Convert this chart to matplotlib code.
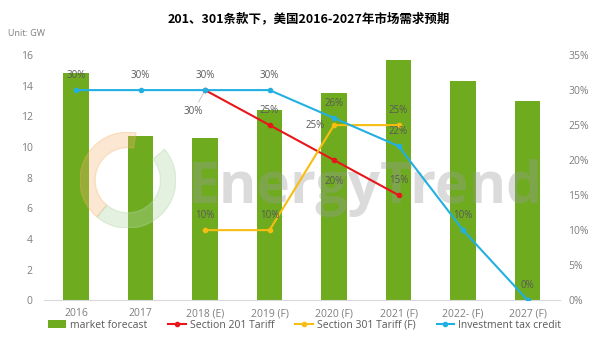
import matplotlib
matplotlib.use('Agg')
from matplotlib import pyplot as plt
from matplotlib.patches import Wedge
import numpy as np

plt.rcParams['font.family'] = ['Open Sans', 'Noto Sans CJK SC', 'DejaVu Sans']

# 数据
years = ['2016', '2017', '2018 (E)', '2019 (F)', '2020 (F)', '2021 (F)', '2022- (F)', '2027 (F)']
market = [14.8, 10.7, 10.6, 12.4, 13.5, 15.7, 14.3, 13.0]
tariff201 = [None, None, 30, 25, 20, 15, None, None]
tariff301 = [None, None, 10, 10, 25, 25, None, None]
itc = [30, 30, 30, 30, 26, 22, 10, 0]

green = '#6eab1f'
red = '#e8161b'
yellow = '#f7bd12'
blue = '#22b0e2'
grey = '#7f7f7f'

fig = plt.figure(figsize=(6, 3.38), dpi=100)
ax = fig.add_axes([0.073, 0.112, 0.86, 0.725])
ax2 = ax.twinx()

x = np.arange(len(years))
ax.bar(x, market, width=0.39, color=green, label='market forecast', zorder=2)
ax.set_ylim(0, 16)
ax.set_yticks(range(0, 17, 2))
ax.set_xlim(-0.5, len(years) - 0.5)
ax.set_xticks(x)
ax.set_xticklabels(years)

def series(vals):
    idx = [i for i, v in enumerate(vals) if v is not None]
    return np.array(idx), np.array([vals[i] for i in idx])

x201, y201 = series(tariff201)
x301, y301 = series(tariff301)
xitc, yitc = series(itc)
ax2.plot(x201, y201, color=red, lw=1.5, marker='o', ms=3, label='Section 201 Tariff', zorder=4)
ax2.plot(x301, y301, color=yellow, lw=1.5, marker='o', ms=3, label='Section 301 Tariff (F)', zorder=4)
ax2.plot(xitc, yitc, color=blue, lw=1.5, marker='o', ms=3, label='Investment tax credit', zorder=5)
ax2.set_ylim(0, 35)
ax2.set_yticks(range(0, 36, 5))
ax2.set_yticklabels(['%d%%' % v for v in range(0, 36, 5)])

lab = dict(fontsize=7, color='#595959', ha='center', va='center', zorder=6)
up = 2.1
# 投资税收抵免
for i, v in zip(xitc, yitc):
    ax2.text(i, v + up, '%d%%' % v, **lab)
# 201条款
for i, v in zip(x201, y201):
    if i == 2:
        ax2.text(i - 0.18, v - 3.0, '%d%%' % v, **lab)
        ax2.plot([i - 0.1, i], [v - 1.7, v], color='#bfbfbf', lw=0.6)
    elif i == 4:
        ax2.text(i, v - 3.0, '%d%%' % v, **lab)
    else:
        ax2.text(i, v + up, '%d%%' % v, **lab)
# 301条款
for i, v in zip(x301, y301):
    if i == 4:
        ax2.text(i - 0.3, v, '%d%%' % v, **lab)
    else:
        ax2.text(i, v + up, '%d%%' % v, **lab)

for a in (ax, ax2):
    for s in a.spines.values():
        s.set_visible(False)
    a.tick_params(length=0, labelsize=7.5, labelcolor=grey)
ax.spines['bottom'].set_visible(True)
ax.spines['bottom'].set_color('#d9d9d9')
ax.tick_params(axis='x', pad=6)
ax.tick_params(axis='y', pad=8)
ax2.tick_params(axis='y', pad=6)

# 水印
ax.text(0.624, 0.396, 'EnergyTrend', transform=ax.transAxes, fontsize=41, fontweight='bold',
        color='#9a9a9a', alpha=0.35, ha='center', va='baseline', zorder=3)
wm = fig.add_axes([0.133, 0.325, 0.16, 0.284])
wm.set_xlim(-1, 1)
wm.set_ylim(-1, 1)
wm.set_aspect('equal')
wm.axis('off')
wm.add_patch(Wedge((0, 0), 1, 80, 230, width=0.32, color='#f6b26b', alpha=0.3))
wm.add_patch(Wedge((0, 0), 1, 230, 40, width=0.32, color='#b6d7a8', alpha=0.35))

fig.text(0.515, 0.945, '201、301条款下，美国2016-2027年市场需求预期', ha='center', va='center',
         fontsize=9, fontweight='bold', family=['Noto Sans CJK SC', 'DejaVu Sans'])
fig.text(0.013, 0.9, 'Unit: GW', fontsize=6.5, color=grey, ha='left', va='center')

h1, l1 = ax.get_legend_handles_labels()
h2, l2 = ax2.get_legend_handles_labels()
fig.legend(h1 + h2, l1 + l2, loc='center', bbox_to_anchor=(0.508, 0.038), ncol=4, frameon=False,
           fontsize=7.5, labelcolor='#595959', handlelength=1.7, handletextpad=0.4,
           columnspacing=2.0)

plt.savefig('out.png', dpi=100)
